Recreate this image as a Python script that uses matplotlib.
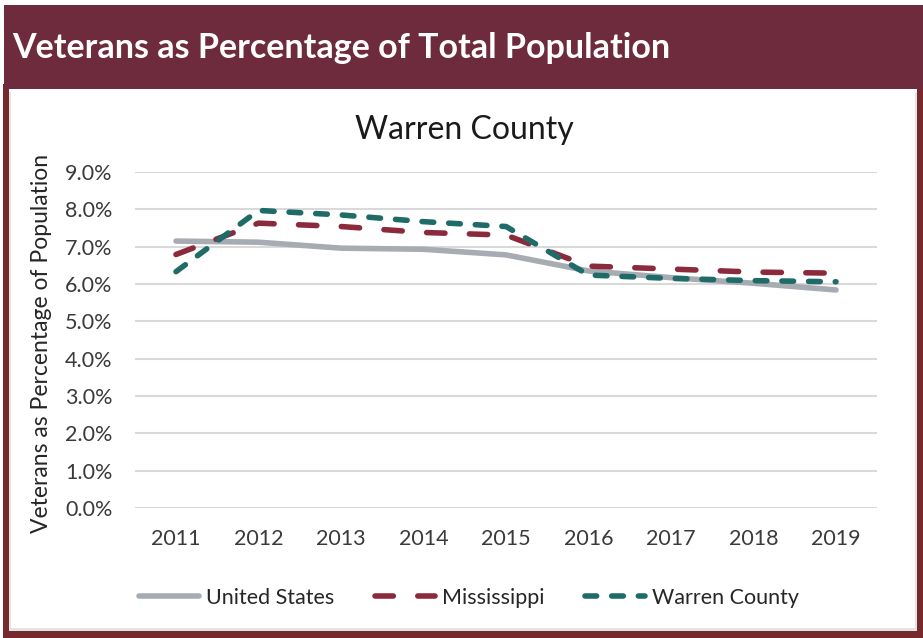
import matplotlib
matplotlib.use("Agg")
import matplotlib.pyplot as plt
from matplotlib.patches import Rectangle
from matplotlib.ticker import FuncFormatter

# Data: veterans as a share of total population (%)
years = ["2011", "2012", "2013", "2014", "2015", "2016", "2017", "2018", "2019"]
united_states = [7.15, 7.12, 6.96, 6.93, 6.78, 6.35, 6.17, 6.02, 5.84]
mississippi = [6.79, 7.63, 7.54, 7.38, 7.31, 6.48, 6.40, 6.32, 6.29]
warren_county = [6.33, 7.97, 7.85, 7.67, 7.54, 6.24, 6.15, 6.09, 6.06]

series_names = ["United States", "Mississippi", "Warren County"]
y_ticks = [0, 1, 2, 3, 4, 5, 6, 7, 8, 9]

header_text = "Veterans as Percentage of Total Population"
chart_title = "Warren County"
y_label = "Veterans as Percentage of Population"

FONT = ["Lato", "DejaVu Sans"]
plt.rcParams["font.family"] = FONT

W, H = 923, 638
fig = plt.figure(figsize=(W / 100, H / 100), dpi=100)
fig.patch.set_facecolor("white")

def px_rect(x0, y0, x1, y1, color, z=0, **kw):
    fig.patches.append(Rectangle((x0 / W, 1 - y1 / H), (x1 - x0) / W, (y1 - y0) / H,
                                 transform=fig.transFigure, facecolor=color,
                                 edgecolor="none", zorder=z, **kw))

frame = "#762A2E"
header = "#6D2B3D"
# outer frame of the chart panel
px_rect(3, 84, 9, 638, frame)
px_rect(917, 84, 923, 638, frame)
px_rect(3, 631, 923, 638, frame)
# thin inner edge of the panel
px_rect(9, 92, 11, 631, "#E4E4E4")
px_rect(915, 92, 917, 631, "#E4E4E4")
px_rect(9, 628, 917, 631, "#E4E4E4")
# header band
px_rect(4, 5, 923, 89, header)
fig.text(12 / W, 1 - 48 / H, header_text, color="white", fontsize=24.5,
         fontweight="bold", ha="left", va="center", family=FONT)

left, right = 134.75, 877.25
top, bottom = 172, 508
ax = fig.add_axes([left / W, 1 - bottom / H, (right - left) / W, (bottom - top) / H])
ax.set_facecolor("none")

x = list(range(len(years)))
lw = 4.0
ax.plot(x, united_states, color="#A7ABB2", lw=lw, solid_capstyle="round",
        solid_joinstyle="round", label=series_names[0], zorder=3)
ax.plot(x, mississippi, color="#8C2A3D", lw=lw, dashes=(3.3, 4.4),
        dash_capstyle="round", dash_joinstyle="round", label=series_names[1], zorder=4)
ax.plot(x, warren_county, color="#1F6B68", lw=lw, dashes=(2.1, 2.7),
        dash_capstyle="round", dash_joinstyle="round", label=series_names[2], zorder=5)

ax.set_xlim(-0.5, len(years) - 0.5)
ax.set_ylim(0, 9)
ax.set_xticks(x)
ax.set_xticklabels(years)
ax.set_yticks(y_ticks)
ax.yaxis.set_major_formatter(FuncFormatter(lambda v, p: f"{v:.1f}%"))
ax.grid(axis="y", color="#D9D9D9", lw=1.5, zorder=0)
ax.set_axisbelow(True)
for s in ax.spines.values():
    s.set_visible(False)
ax.tick_params(axis="both", length=0, labelsize=15.5, colors="#3A3A3A")
ax.tick_params(axis="y", pad=16)
ax.tick_params(axis="x", pad=15)

ax.set_ylabel(y_label, fontsize=16.5, color="#262626")
ax.yaxis.set_label_coords(-0.112, 0.49)

fig.text(464 / W, 1 - 130 / H, chart_title, fontsize=23, color="#1a1a1a",
         ha="center", va="center")

fig.legend(loc="center", bbox_to_anchor=(469 / W, 1 - 598 / H), ncol=3,
           frameon=False, fontsize=15.5, handlelength=2.8, handletextpad=0.3,
           columnspacing=1.9, labelcolor="#262626")

fig.savefig("out.png", dpi=100)
